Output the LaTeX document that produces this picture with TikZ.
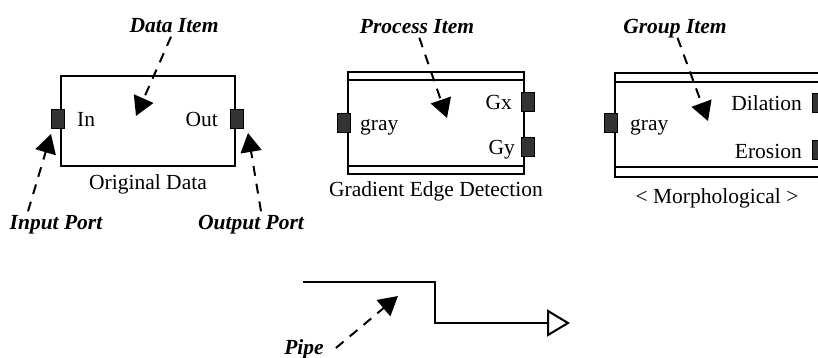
\documentclass[tikz,border=0pt]{standalone}
\usepackage{fontspec}
\setmainfont{Liberation Serif}
\usetikzlibrary{arrows.meta,positioning,calc}

\begin{document}
\begin{tikzpicture}[x=1pt,y=-1pt,node distance=8pt,
  font=\fontsize{21.5pt}{24pt}\selectfont,
  item/.style={draw,line width=2pt,inner sep=0pt,outer sep=0pt},
  port/.style={draw,line width=1pt,fill=black!80,minimum width=13pt,minimum height=19pt,inner sep=0pt},
  txt/.style={inner sep=2pt,text height=0.7em,text depth=0.2em,yshift=-5.5pt},
  captxt/.style={inner sep=2pt,text height=0.7em,text depth=0.2em},
  tag/.style={captxt,font=\fontsize{21.5pt}{24pt}\selectfont\bfseries\itshape},
  pointer/.style={-{Triangle[length=19pt,width=21pt]},line width=2pt,dash pattern=on 10pt off 8pt},
  pipe/.style={-{Triangle[open,length=23pt,width=27pt]},line width=2pt}]
\useasboundingbox (0,0) rectangle (818,358);
% items
\node[item,minimum width=174pt,minimum height=90pt] (odata) at (148,121) {};
\node[item,minimum width=176pt,minimum height=102pt] (grad) at (436,123) {};
\node[item,minimum width=204pt,minimum height=104pt] (morph) at (717,125) {};
\draw[line width=2pt] ([yshift=-8pt]grad.north west) -- ([yshift=-8pt]grad.north east);
\draw[line width=2pt] ([yshift=8pt]grad.south west) -- ([yshift=8pt]grad.south east);
\draw[line width=2pt] ([yshift=-9pt]morph.north west) -- ([yshift=-9pt]morph.north east);
\draw[line width=2pt] ([yshift=10pt]morph.south west) -- ([yshift=10pt]morph.south east);
% ports
\node[port] (odin) at ([xshift=-3pt,yshift=2pt]odata.west) {};
\node[port] (odout) at ([xshift=2pt,yshift=2pt]odata.east) {};
\node[port] (gradin) at ([xshift=-4pt]grad.west) {};
\node[port] (gradgx) at ([xshift=4pt,yshift=21pt]grad.east) {};
\node[port] (gradgy) at ([xshift=4pt,yshift=-24pt]grad.east) {};
\node[port] (morphin) at ([xshift=-4pt,yshift=2pt]morph.west) {};
\node[port] (morphdil) at ([yshift=22pt]morph.east) {};
\node[port] (morphero) at ([yshift=-25pt]morph.east) {};
% port names
\node[txt,right=10pt of odin] (intxt) {In};
\node[txt,left=10pt of odout] (outtxt) {Out};
\node[txt,right=7pt of gradin] (gradgray) {gray};
\node[txt,left=7pt of gradgx] (gxtxt) {Gx};
\node[txt,left=4pt of gradgy] (gytxt) {Gy};
\node[txt,right=10pt of morphin] (morphgray) {gray};
\node[txt,left=8pt of morphdil] (diltxt) {Dilation};
\node[txt,left=8pt of morphero] (erotxt) {Erosion};
% captions
\node[captxt,below=14.7pt of odata] (odcap) {Original Data};
\node[captxt,below=12.9pt of grad] (gradcap) {Gradient Edge Detection};
\node[captxt,below=16.9pt of morph] (morphcap) {< Morphological >};
% pipe
\coordinate (pipein) at (303,282);
\coordinate (pipebend) at (435,282);
\coordinate (pipeout) at (570,323);
\draw[pipe] (pipein) -- (pipebend) |- (pipeout);
% tags and pointers
\node[tag] (dataitem) at (174,30) {Data Item};
\node[tag] (procitem) at (417,31) {Process Item};
\node[tag] (groupitem) at (675,31) {Group Item};
\node[tag] (inport) at (56,227) {Input Port};
\node[tag] (outport) at (251,227) {Output Port};
\node[tag] (pipetag) at (304,352) {Pipe};
\coordinate (dataptr) at (136,116);
\coordinate (procptr) at (447,118);
\coordinate (groupptr) at (708,121);
\coordinate (inptr) at (51,134);
\coordinate (outptr) at (248,133);
\coordinate (pipeptr) at (398,296);
\draw[pointer] (dataitem) -- (dataptr);
\draw[pointer] (procitem) -- (procptr);
\draw[pointer] (groupitem) -- (groupptr);
\draw[pointer] ([xshift=-28pt,yshift=9pt]inport.north) -- (inptr);
\draw[pointer] ([xshift=10pt,yshift=9pt]outport.north) -- (outptr);
\draw[pointer] ([xshift=10pt,yshift=4pt]pipetag.east) -- (pipeptr);
\end{tikzpicture}
\end{document}
